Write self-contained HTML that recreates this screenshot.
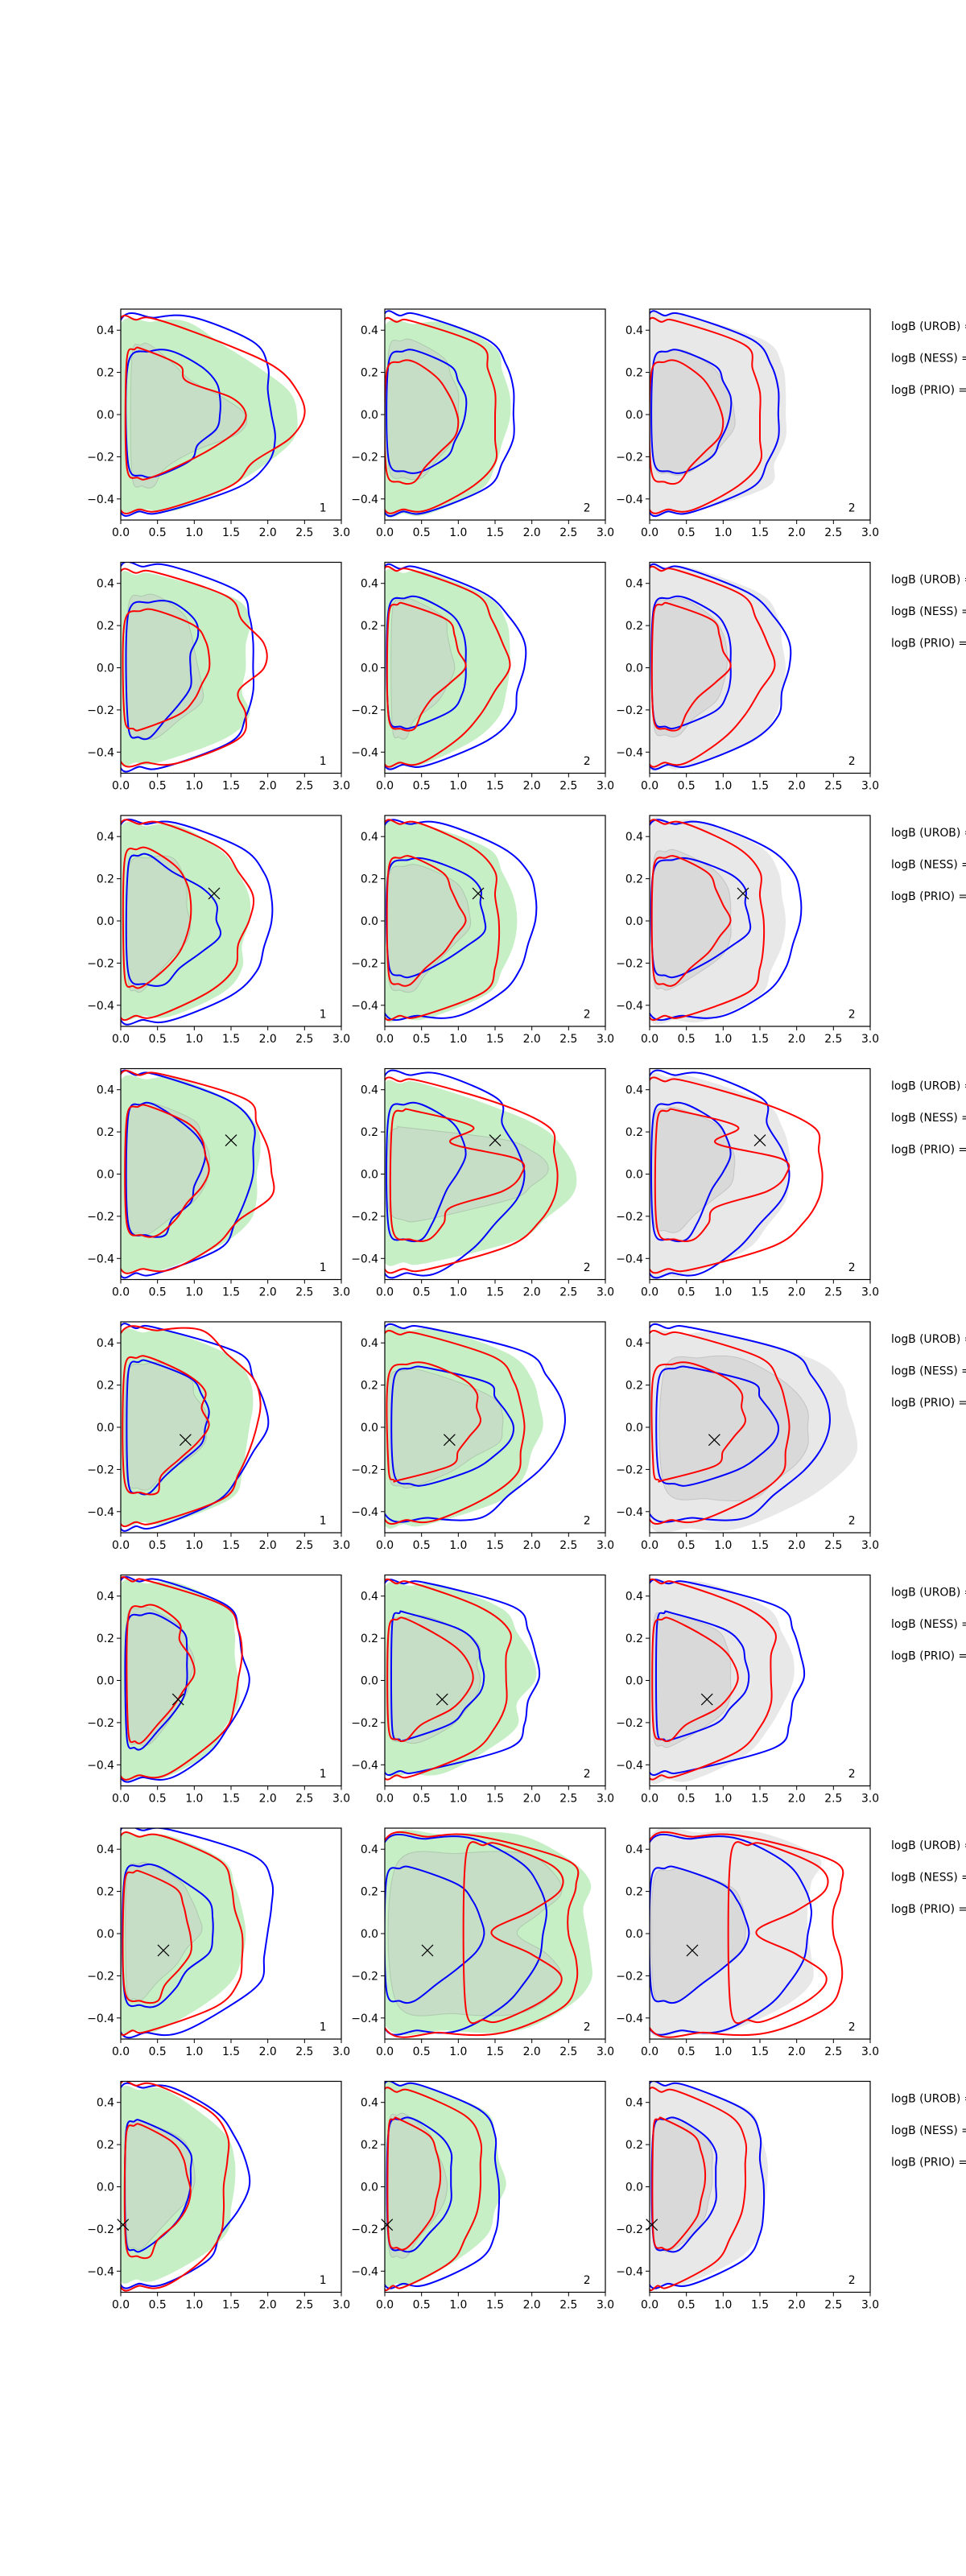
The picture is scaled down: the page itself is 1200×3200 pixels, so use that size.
<!DOCTYPE html>
<html><head><meta charset="utf-8">
<style>
html,body{margin:0;padding:0;background:#fff;}
svg{display:block;}
text{font-family:"DejaVu Sans","Liberation Sans",sans-serif;font-size:13.9px;fill:#000;}
</style></head>
<body>
<svg id="fig" width="1200" height="3200" viewBox="0 0 1200 3200" xmlns="http://www.w3.org/2000/svg">
<rect width="1200" height="3200" fill="#fff"/>
</svg>
<script>
// each contour: [left, top, bottom, right-edge x at 9 y-levels from top to bottom]
const c1GreenOuter=[[-0.05,0.44,-0.45,0.9,1.4,1.9,2.3,2.4,2.35,2.0,1.5,0.8],[-0.05,0.44,-0.45,0.5,1.55,1.75,1.7,1.7,1.65,1.75,1.4,0.5],[-0.05,0.45,-0.45,0.8,1.35,1.6,1.75,1.75,1.65,1.65,1.4,0.7],[-0.05,0.45,-0.45,0.8,1.55,1.85,1.9,1.85,1.85,1.75,1.35,0.6],[-0.05,0.45,-0.45,0.7,1.5,1.75,1.8,1.75,1.7,1.65,1.5,0.7],[-0.05,0.46,-0.46,0.8,1.45,1.55,1.55,1.6,1.6,1.4,1.2,0.6],[-0.05,0.46,-0.46,0.7,1.4,1.55,1.65,1.7,1.65,1.5,1.1,0.5],[-0.05,0.46,-0.44,0.6,1.1,1.45,1.55,1.55,1.5,1.45,1.1,0.5]];
const c1GreenInner=[[0.15,0.33,-0.34,0.4,0.7,0.95,1.4,1.7,1.6,1.0,0.6,0.45],[0.1,0.34,-0.33,0.5,0.85,0.95,1.0,1.05,1.1,1.1,0.8,0.5],[0.1,0.30,-0.33,0.7,0.85,0.9,0.9,0.95,0.9,0.7,0.5,0.3],[0.1,0.33,-0.28,0.5,1.0,1.1,1.2,1.2,1.15,1.0,0.7,0.4],[0.08,0.30,-0.29,0.6,0.95,1.0,1.15,1.15,1.15,0.95,0.6,0.4],[0.08,0.34,-0.30,0.4,0.8,0.9,1.0,0.95,0.9,0.75,0.6,0.4],[0.08,0.33,-0.31,0.4,0.8,0.95,1.05,1.1,0.9,0.75,0.5,0.3],[0.08,0.31,-0.29,0.3,0.8,0.95,1.0,1.0,0.9,0.7,0.5,0.3]];
const c1BlueOuter=[[-0.05,0.46,-0.46,1.0,1.8,2.0,2.0,2.05,2.1,2.0,1.6,0.6],[-0.05,0.48,-0.47,0.7,1.6,1.75,1.8,1.8,1.8,1.7,1.5,0.6],[-0.05,0.46,-0.47,0.8,1.65,1.95,2.05,2.05,1.95,1.85,1.5,0.7],[-0.05,0.47,-0.47,0.5,1.45,1.8,1.8,1.8,1.7,1.55,1.35,0.5],[-0.05,0.47,-0.47,0.5,1.6,1.8,1.95,2.0,1.8,1.6,1.3,0.5],[-0.05,0.47,-0.46,0.6,1.45,1.6,1.65,1.75,1.65,1.45,1.2,0.7],[-0.05,0.49,-0.47,0.7,1.8,2.05,2.05,2.0,1.95,1.9,1.45,0.8],[-0.05,0.47,-0.46,0.7,1.3,1.55,1.7,1.75,1.6,1.35,1.2,0.6]];
const c1RedOuter=[[-0.05,0.45,-0.45,0.5,1.4,2.1,2.4,2.5,2.3,1.8,1.5,0.6],[-0.05,0.45,-0.45,0.5,1.45,1.65,1.95,1.95,1.6,1.7,1.6,0.8],[-0.05,0.46,-0.45,0.6,1.35,1.6,1.8,1.75,1.6,1.55,1.2,0.5],[-0.05,0.47,-0.45,0.6,1.7,1.85,2.0,2.05,2.05,1.6,1.3,0.7],[-0.05,0.46,-0.45,1.1,1.45,1.8,1.9,1.85,1.75,1.6,1.4,0.5],[-0.05,0.47,-0.45,0.4,1.4,1.6,1.65,1.6,1.55,1.45,1.1,0.6],[-0.05,0.46,-0.46,0.6,1.35,1.5,1.55,1.65,1.65,1.6,1.3,0.4],[-0.05,0.48,-0.47,0.5,1.2,1.45,1.45,1.4,1.4,1.35,1.1,0.6]];
const c1BlueInner=[[0.1,0.30,-0.29,0.7,1.1,1.3,1.35,1.35,1.3,1.05,0.95,0.5],[0.1,0.31,-0.33,0.7,1.0,1.05,0.95,0.95,0.95,0.8,0.6,0.4],[0.1,0.31,-0.30,0.4,0.7,1.1,1.3,1.3,1.35,1.1,0.8,0.6],[0.1,0.33,-0.29,0.45,0.8,1.05,1.15,1.1,1.0,0.95,0.7,0.6],[0.1,0.31,-0.31,0.4,0.95,1.1,1.2,1.15,1.1,0.85,0.6,0.4],[0.08,0.31,-0.32,0.5,0.85,0.9,0.9,0.9,0.85,0.7,0.5,0.3],[0.05,0.32,-0.34,0.5,0.9,1.2,1.25,1.25,1.2,0.9,0.75,0.5],[0.07,0.31,-0.30,0.3,0.75,0.95,0.95,0.95,0.9,0.8,0.6,0.3]];
const c1RedInner=[[0.08,0.31,-0.30,0.3,0.8,0.9,1.5,1.7,1.6,1.3,0.9,0.4],[0.05,0.27,-0.29,0.5,1.0,1.15,1.2,1.2,1.1,1.0,0.8,0.3],[0.05,0.34,-0.31,0.4,0.75,0.9,0.95,0.95,0.9,0.8,0.6,0.3],[0.08,0.32,-0.29,0.4,0.9,1.1,1.15,1.2,1.1,0.9,0.75,0.5],[0.05,0.33,-0.31,0.4,0.9,1.15,1.1,1.2,1.05,0.8,0.55,0.5],[0.1,0.35,-0.29,0.5,0.8,0.8,0.95,1.0,0.85,0.7,0.5,0.3],[0.05,0.29,-0.32,0.3,0.75,0.85,0.9,0.95,0.95,0.8,0.6,0.5],[0.07,0.29,-0.33,0.3,0.7,0.85,0.9,0.95,0.9,0.75,0.5,0.4]];
const c2GreenOuter=[[-0.05,0.43,-0.47,0.9,1.5,1.6,1.7,1.7,1.6,1.5,1.3,0.6],[-0.05,0.45,-0.46,0.6,1.4,1.65,1.7,1.7,1.65,1.55,1.2,0.5],[-0.05,0.46,-0.46,0.5,1.4,1.6,1.75,1.8,1.75,1.6,1.4,0.6],[-0.05,0.43,-0.42,0.5,1.45,2.15,2.45,2.6,2.55,2.2,1.8,0.6],[-0.05,0.46,-0.46,0.8,1.7,2.0,2.1,2.15,2.0,1.9,1.6,0.6],[-0.05,0.45,-0.44,0.8,1.6,1.8,2.0,2.05,1.8,1.8,1.4,0.8],[-0.05,0.47,-0.46,1.8,2.5,2.8,2.7,2.75,2.8,2.8,2.5,1.8],[-0.05,0.48,-0.46,0.5,1.35,1.5,1.55,1.65,1.5,1.4,1.0,0.4]];
const c2GreenInner=[[0.05,0.35,-0.30,0.4,0.8,0.9,1.0,1.0,1.0,0.9,0.7,0.5],[0.1,0.32,-0.33,0.4,0.8,0.85,0.9,0.95,0.85,0.7,0.4,0.3],[0.05,0.26,-0.33,0.5,0.95,1.1,1.15,1.15,0.95,0.75,0.55,0.4],[0.05,0.22,-0.22,0.3,1.6,2.0,2.2,2.2,2.0,1.8,1.2,0.5],[0.05,0.27,-0.28,0.5,1.1,1.5,1.6,1.6,1.55,1.2,0.9,0.4],[0.05,0.30,-0.29,0.6,1.1,1.3,1.25,1.3,1.25,1.1,0.9,0.5],[0.15,0.38,-0.38,1.9,2.3,2.4,2.1,1.8,2.2,2.4,2.3,1.8],[0.05,0.34,-0.33,0.3,0.6,0.7,0.8,0.85,0.8,0.65,0.45,0.3]];
const c2BlueOuter=[[-0.05,0.47,-0.46,0.5,1.4,1.65,1.75,1.75,1.75,1.6,1.4,0.6],[-0.05,0.47,-0.46,0.5,1.35,1.7,1.9,1.9,1.8,1.75,1.4,0.6],[-0.05,0.46,-0.45,0.8,1.6,1.95,2.05,2.05,1.95,1.85,1.6,1.0],[-0.05,0.47,-0.47,0.8,1.55,1.6,1.8,1.9,1.8,1.5,1.2,0.7],[-0.05,0.47,-0.43,0.6,1.9,2.2,2.4,2.45,2.35,2.1,1.7,1.3],[-0.05,0.46,-0.43,0.6,1.75,1.95,2.05,2.1,1.95,1.9,1.7,0.5],[-0.05,0.45,-0.46,1.2,1.85,2.1,2.2,2.15,2.1,1.9,1.6,1.0],[-0.05,0.48,-0.46,0.5,1.3,1.5,1.5,1.55,1.55,1.5,1.3,0.6]];
const c2RedOuter=[[-0.05,0.44,-0.45,0.4,1.3,1.4,1.5,1.5,1.5,1.5,1.2,0.6],[-0.05,0.46,-0.45,0.4,1.25,1.45,1.6,1.7,1.5,1.3,1.0,0.5],[-0.05,0.46,-0.45,0.5,1.2,1.5,1.5,1.55,1.55,1.5,1.35,0.5],[-0.05,0.44,-0.45,0.5,1.6,2.25,2.3,2.35,2.3,2.1,1.7,0.6],[-0.05,0.44,-0.44,0.5,1.5,1.75,1.85,1.9,1.85,1.8,1.4,0.7],[-0.05,0.46,-0.45,0.4,1.3,1.7,1.65,1.65,1.65,1.5,1.2,0.4],[-0.05,0.46,-0.47,1.3,2.5,2.6,2.5,2.5,2.6,2.6,2.4,1.6],[-0.05,0.45,-0.47,0.4,1.1,1.3,1.3,1.3,1.25,1.1,0.9,0.3]];
const c2BlueInner=[[0.05,0.30,-0.27,0.45,0.9,1.0,1.1,1.1,1.05,0.95,0.85,0.5],[0.05,0.33,-0.28,0.5,0.9,1.05,1.1,1.1,1.1,1.05,0.9,0.4],[0.05,0.29,-0.26,0.6,1.1,1.3,1.3,1.35,1.35,1.1,0.8,0.4],[0.05,0.33,-0.31,0.5,0.9,1.05,1.1,1.0,0.85,0.75,0.65,0.5],[0.12,0.28,-0.27,0.6,1.4,1.5,1.65,1.75,1.7,1.5,1.2,0.6],[0.1,0.32,-0.28,0.3,1.0,1.25,1.3,1.35,1.3,1.1,0.9,0.3],[0.02,0.31,-0.32,0.4,1.0,1.2,1.3,1.35,1.25,1.0,0.7,0.4],[0.05,0.32,-0.30,0.4,0.75,0.9,0.9,0.9,0.9,0.8,0.6,0.4]];
const c2RedInner=[[0.02,0.25,-0.32,0.4,0.7,0.85,0.95,1.0,0.95,0.75,0.55,0.4],[0.05,0.30,-0.29,0.3,0.85,0.95,1.0,1.1,0.9,0.65,0.5,0.4],[0.05,0.30,-0.30,0.4,0.8,0.9,1.0,1.1,0.95,0.8,0.55,0.35],[0.1,0.30,-0.31,0.4,1.2,0.9,1.8,1.85,1.6,0.9,0.8,0.6],[0.05,0.30,-0.25,0.6,1.05,1.25,1.25,1.3,1.15,1.0,0.9,0.2],[0.05,0.29,-0.28,0.3,0.7,1.0,1.15,1.2,1.1,0.9,0.5,0.3],[1.1,0.42,-0.41,1.6,2.3,2.4,2.0,1.45,2.0,2.4,2.2,1.6],[0.05,0.32,-0.29,0.2,0.6,0.7,0.75,0.75,0.7,0.65,0.5,0.3]];
const c3GrayOuter=[[-0.05,0.47,-0.46,0.5,1.55,1.8,1.85,1.85,1.85,1.7,1.6,0.6],[-0.05,0.47,-0.47,0.6,1.5,1.75,1.8,1.85,1.8,1.7,1.4,0.5],[-0.05,0.47,-0.47,0.7,1.5,1.75,1.8,1.85,1.8,1.65,1.5,0.8],[-0.05,0.46,-0.48,0.6,1.55,1.8,1.9,1.9,1.85,1.6,1.3,0.5],[-0.05,0.44,-0.48,1.0,2.2,2.6,2.7,2.8,2.8,2.5,2.0,1.2],[-0.05,0.46,-0.47,0.8,1.6,1.8,1.95,1.95,1.8,1.6,1.3,0.6],[-0.05,0.48,-0.47,1.5,2.3,2.2,2.15,2.15,2.2,2.2,1.8,1.0],[-0.05,0.48,-0.46,0.5,1.35,1.5,1.6,1.6,1.55,1.5,1.2,0.5]];
const c3GrayInner=[[0.05,0.30,-0.28,0.5,0.85,1.0,1.1,1.15,1.15,1.0,0.8,0.5],[0.05,0.32,-0.32,0.5,0.85,1.0,1.05,1.05,1.0,0.9,0.6,0.4],[0.05,0.33,-0.32,0.4,0.85,1.05,1.1,1.1,1.1,1.0,0.7,0.3],[0.05,0.31,-0.27,0.4,0.9,1.05,1.15,1.15,1.1,0.85,0.6,0.4],[0.2,0.33,-0.34,1.2,1.7,2.0,2.15,2.15,2.15,2.0,1.7,1.4],[0.05,0.32,-0.31,0.3,0.9,1.05,1.1,1.1,1.1,1.0,0.7,0.3],[0.05,0.30,-0.32,0.5,1.1,1.25,1.3,1.3,1.25,1.0,0.7,0.4],[0.05,0.32,-0.30,0.4,0.75,0.85,0.85,0.85,0.8,0.75,0.6,0.3]];
const markers=[null,null,[1.27,0.13],[1.5,0.16],[0.88,-0.06],[0.78,-0.09],[0.58,-0.08],[0.03,-0.18]];
const panelLabels=["1","2","2"];
const xTicks=[0,0.5,1,1.5,2,2.5,3];
const xTickLabels=["0.0","0.5","1.0","1.5","2.0","2.5","3.0"];
const yTicks=[-0.4,-0.2,0,0.2,0.4];
const yTickLabels=["\u22120.4","\u22120.2","0.0","0.2","0.4"];
const legendLabels=["logB (UROB) = ","logB (NESS) = ","logB (PRIO) = "];

const NS="http://www.w3.org/2000/svg";
const svg=document.getElementById('fig');
const colLeft=[150,478,807], PW=274, PH=262, TOP0=384, ROWSTEP=314.5;
function mk(tag,attrs,parent){const e=document.createElementNS(NS,tag);for(const k in attrs)e.setAttribute(k,attrs[k]);(parent||svg).appendChild(e);return e;}
function smooth(p){
  const n=p.length;let d=`M${p[0][0].toFixed(1)},${p[0][1].toFixed(1)}`;
  for(let i=0;i<n;i++){const p0=p[(i-1+n)%n],p1=p[i],p2=p[(i+1)%n],p3=p[(i+2)%n];
    const c1=[p1[0]+(p2[0]-p0[0])/6,p1[1]+(p2[1]-p0[1])/6],c2=[p2[0]-(p3[0]-p1[0])/6,p2[1]-(p3[1]-p1[1])/6];
    d+=`C${c1[0].toFixed(1)},${c1[1].toFixed(1)} ${c2[0].toFixed(1)},${c2[1].toFixed(1)} ${p2[0].toFixed(1)},${p2[1].toFixed(1)}`;}
  return d+'Z';
}
function contourPath(c,sx,sy){
  const l=c[0],t=c[1],b=c[2],xs=c.slice(3),n=xs.length;
  const pts=[[l,t-0.06],[(l+xs[0])/2,t]];
  for(let i=0;i<n;i++)pts.push([xs[i],t-i*(t-b)/(n-1)]);
  pts.push([(l+xs[n-1])/2,b]);pts.push([l,b+0.06]);
  return smooth(pts.map(p=>[sx(p[0]),sy(p[1])]));
}
for(let r=0;r<8;r++){
  const top=TOP0+r*ROWSTEP;
  for(let c=0;c<3;c++){
    const left=colLeft[c];
    const sx=v=>left+v/3*PW, sy=v=>top+(0.5-v)*PH;
    const g=mk('g',{});
    
    
    const cid=`clip${r}_${c}`;
    const cp=mk('clipPath',{id:cid},g);mk('rect',{x:left,y:top,width:PW,height:PH},cp);
    const plot=mk('g',{'clip-path':`url(#${cid})`},g);
    const layers=[];
    if(c===0)layers.push([c1GreenOuter[r],'fill','#c6efc6','green-outer-region'],[c1GreenInner[r],'fill','#c6ddc6','green-inner-region']);
    if(c===1)layers.push([c2GreenOuter[r],'fill','#c6efc6','green-outer-region'],[c2GreenInner[r],'fill','#c6ddc6','green-inner-region']);
    if(c===2)layers.push([c3GrayOuter[r],'fill','#e8e8e8','gray-outer-region'],[c3GrayInner[r],'fill','#d9d9d9','gray-inner-region']);
    const L=c===0?[c1BlueOuter,c1RedOuter,c1BlueInner,c1RedInner]:[c2BlueOuter,c2RedOuter,c2BlueInner,c2RedInner];
    layers.push([L[0][r],'line','#0000ff','blue-outer-contour'],[L[1][r],'line','#ff0000','red-outer-contour'],[L[2][r],'line','#0000ff','blue-inner-contour'],[L[3][r],'line','#ff0000','red-inner-contour']);
    for(const [data,kind,col,name] of layers){
      const p=mk('path',{d:contourPath(data,sx,sy)},plot);
      
      
      if(kind==='fill'){p.setAttribute('fill',col);p.setAttribute('stroke',name.indexOf('inner')>=0?'rgba(0,0,0,0.12)':'none');p.setAttribute('stroke-width','1');}
      else{p.setAttribute('fill','none');p.setAttribute('stroke',col);p.setAttribute('stroke-width','2');}
    }
    const m=markers[r];
    if(m){const mx=sx(m[0]),my=sy(m[1]),s=7;
      const mg=mk('g',{stroke:'#000','stroke-width':'1.2'},g);
      
      
      mk('line',{x1:mx-s,y1:my-s,x2:mx+s,y2:my+s},mg);mk('line',{x1:mx-s,y1:my+s,x2:mx+s,y2:my-s},mg);}
    const fr=mk('rect',{x:left,y:top,width:PW,height:PH,fill:'none',stroke:'#000','stroke-width':'1.2'},g);
    
    
    for(let i=0;i<xTicks.length;i++){const x=sx(xTicks[i]);
      mk('line',{x1:x,y1:top+PH,x2:x,y2:top+PH+5,stroke:'#000','stroke-width':'1'},g);
      const t=mk('text',{x:x,y:top+PH+20,'text-anchor':'middle'},g);t.textContent=xTickLabels[i];
      
      }
    for(let i=0;i<yTicks.length;i++){const y=sy(yTicks[i]);
      mk('line',{x1:left-5,y1:y,x2:left,y2:y,stroke:'#000','stroke-width':'1'},g);
      const t=mk('text',{x:left-8,y:y+5,'text-anchor':'end'},g);t.textContent=yTickLabels[i];
      
      }
    const pl=mk('text',{x:sx(2.75),y:sy(-0.44)+5,'text-anchor':'middle'},g);pl.textContent=panelLabels[c];
    
    
  }
  for(let k=0;k<3;k++){
    const t=mk('text',{x:1107,y:top+26+k*39.5});t.textContent=legendLabels[k];
    
    
  }
}
</script>
</body></html>
